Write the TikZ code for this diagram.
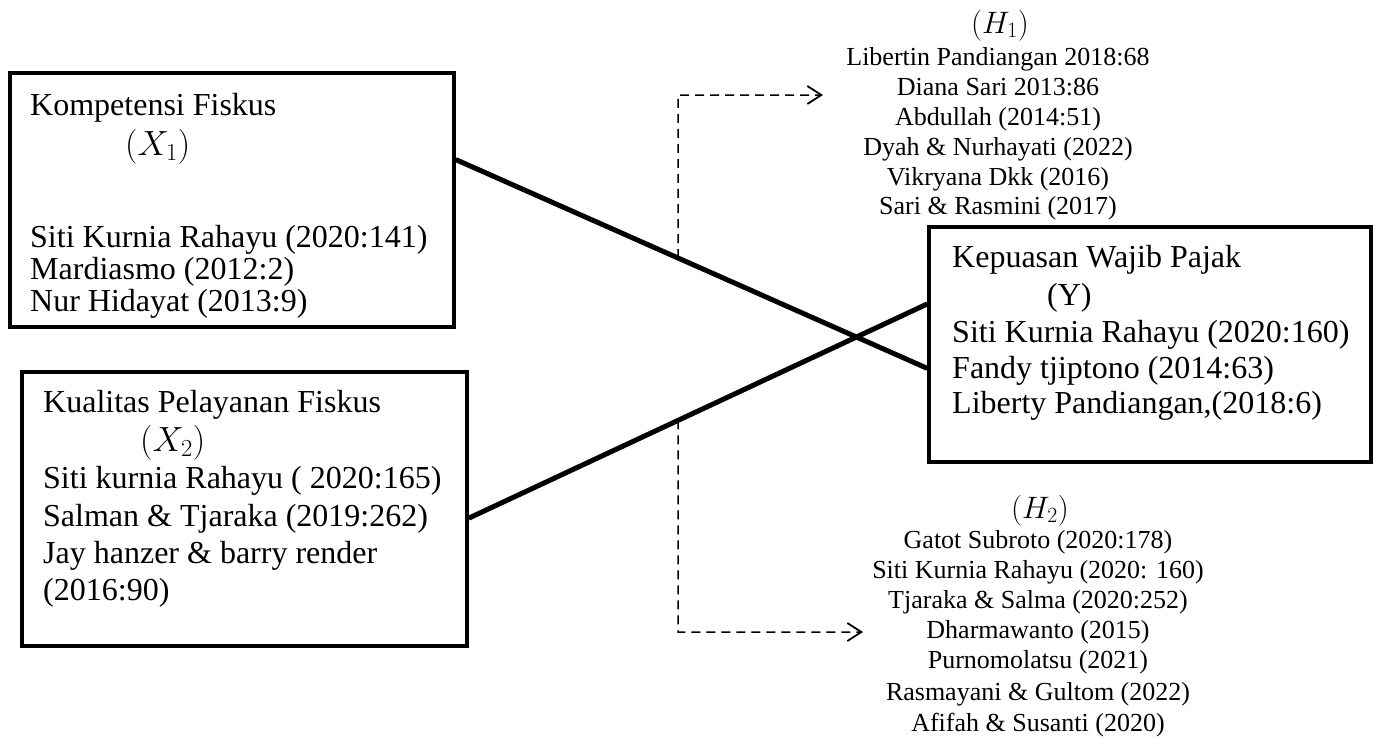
\RequirePackage{fix-cm}
\documentclass[tikz,border=0pt]{standalone}
\usepackage{fontspec}
\setmainfont{Liberation Serif}
\usetikzlibrary{arrows.meta,calc}

\tikzset{
  varbox/.style={draw, line width=3.5pt, inner sep=0pt},
  reftext/.style={anchor=base west, inner sep=0pt, font=\fontsize{32}{32}\selectfont},
  hyptext/.style={anchor=base, inner sep=0pt, font=\fontsize{26}{26}\selectfont},
  symtext/.style={font=\fontsize{35}{35}\selectfont},
  link/.style={line width=5pt},
  hyparrow/.style={line width=1.5pt, dash pattern=on 9pt off 6pt,
    -{Straight Barb[length=14pt,width=18pt,line width=1.8pt]}}
}

\begin{document}
\begin{tikzpicture}[x=1pt,y=-1pt]
\useasboundingbox (0,0) rectangle (1376,740);

% Variable boxes
\node[varbox, minimum width=444pt, minimum height=254pt] (kf) at (232,200) {};
\node[varbox, minimum width=445pt, minimum height=274pt] (kp) at (244.5,509) {};
\node[varbox, minimum width=442pt, minimum height=235pt] (kwp) at (1150,344.5) {};

% Texts of box X1
\node[reftext] (kf-head) at (30,115) {Kompetensi Fiskus};
\node[reftext, symtext] (kf-sym) at (125,155) {$(X_1)$};
\foreach \yy/\txt [count=\i] in {247/Siti Kurnia Rahayu (2020:141),
                                279/Mardiasmo (2012:2),
                                311/Nur Hidayat (2013:9)}
  \node[reftext] (kf-\i) at (30,\yy) {\txt};

% Texts of box X2
\node[reftext] (kp-head) at (43,412) {Kualitas Pelayanan Fiskus};
\node[reftext, symtext] (kp-sym) at (140,451) {$(X_2)$};
\foreach \yy/\txt [count=\i] in {488/Siti kurnia Rahayu ( 2020:165),
                                526/Salman \& Tjaraka (2019:262),
                                563/Jay hanzer \& barry render,
                                600/(2016:90)}
  \node[reftext] (kp-\i) at (43,\yy) {\txt};

% Texts of box Y
\node[reftext] (kwp-head) at (952,267) {Kepuasan Wajib Pajak};
\node[reftext] (kwp-sym) at (1047,305) {(Y)};
\foreach \yy/\txt [count=\i] in {342/Siti Kurnia Rahayu (2020:160),
                                378/Fandy tjiptono (2014:63),
                                413/{Liberty Pandiangan,(2018:6)}}
  \node[reftext] (kwp-\i) at (952,\yy) {\txt};

% Hypothesis H1 references
\node[hyptext, font=\fontsize{31}{31}\selectfont] (h1-sym) at (1000,33) {$(H_1)$};
\foreach \yy/\txt [count=\i] in {65/Libertin Pandiangan 2018:68,
                                95/Diana Sari 2013:86,
                                125/Abdullah (2014:51),
                                155/Dyah \& Nurhayati (2022),
                                185/Vikryana Dkk (2016),
                                214/Sari \& Rasmini (2017)}
  \node[hyptext] (h1-\i) at (998,\yy) {\txt};

% Hypothesis H2 references
\node[hyptext, font=\fontsize{31}{31}\selectfont] (h2-sym) at (1040,518) {$(H_2)$};
\foreach \yy/\txt [count=\i] in {548/Gatot Subroto (2020:178),
                                578/Siti Kurnia Rahayu (2020: 160),
                                608/Tjaraka \& Salma (2020:252),
                                638/Dharmawanto (2015),
                                668/Purnomolatsu (2021),
                                700/Rasmayani \& Gultom (2022),
                                731/Afifah \& Susanti (2020)}
  \node[hyptext] (h2-\i) at (1038,\yy) {\txt};

% Partial paths X1 -> Y and X2 -> Y
\coordinate (kf-out) at ($(kf.north east)!0.343!(kf.south east)$);
\coordinate (kwp-in1) at ($(kwp.north west)!0.6!(kwp.south west)$);
\coordinate (kp-out) at ($(kp.north east)!0.533!(kp.south east)$);
\coordinate (kwp-in2) at ($(kwp.north west)!0.33!(kwp.south west)$);
\draw[link] (kf-out) -- (kwp-in1);
\draw[link] (kp-out) -- (kwp-in2);

% Dashed arrows to the hypotheses
\coordinate (h1-turn) at (678,95);
\coordinate (h1-tip) at (823,95);
\coordinate (h2-turn) at (678,632);
\coordinate (h2-tip) at (863,632);
\coordinate (d1) at (intersection of kf-out--kwp-in1 and h1-turn--h2-turn);
\coordinate (d2) at (intersection of kp-out--kwp-in2 and h1-turn--h2-turn);
\draw[hyparrow] (d1) -- (h1-turn) -- (h1-tip);
\draw[hyparrow] (d2) -- (h2-turn) -- (h2-tip);

\end{tikzpicture}
\end{document}
